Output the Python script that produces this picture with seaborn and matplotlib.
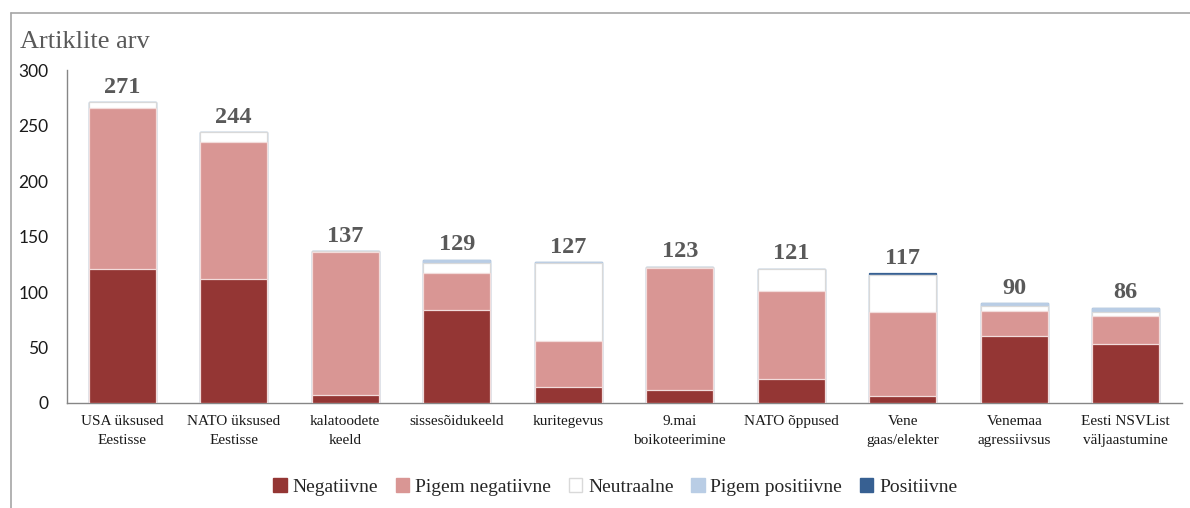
import matplotlib
matplotlib.use("Agg")
import matplotlib.pyplot as plt
from matplotlib.lines import Line2D
from matplotlib.patches import Patch
import seaborn as sns
import pandas as pd
import numpy as np

categories = ["USA üksused\nEestisse", "NATO üksused\nEestisse", "kalatoodete\nkeeld",
              "sissesõidukeeld", "kuritegevus", "9.mai\nboikoteerimine", "NATO õppused",
              "Vene\ngaas/elekter", "Venemaa\nagressiivsus", "Eesti NSVList\nväljaastumine"]
negatiivne = [121, 112, 7, 84, 14, 12, 22, 6, 60, 53]
pigem_negatiivne = [145, 123, 129, 33, 42, 110, 79, 76, 23, 25]
neutraalne = [5, 9, 1, 9, 70, 1, 20, 33, 4, 4]
pigem_positiivne = [0, 0, 0, 3, 1, 0, 0, 0, 3, 4]
positiivne = [0, 0, 0, 0, 0, 0, 0, 2, 0, 0]
series_names = ["Negatiivne", "Pigem negatiivne", "Neutraalne", "Pigem positiivne", "Positiivne"]
colors = ["#943634", "#D99694", "#FFFFFF", "#B9CDE5", "#376092"]
edges = ["#F2DCDB", "#F2DCDB", "#D9D9D9", "#B9CDE5", "#376092"]

sns.set_theme(style="white")
plt.rcParams["font.family"] = ["Liberation Serif", "DejaVu Serif"]

layers = [negatiivne, pigem_negatiivne, neutraalne, pigem_positiivne, positiivne]
cum = np.cumsum(np.array(layers), axis=0)
totals = cum[-1]

fig = plt.figure(figsize=(11.9, 5.08), dpi=100)
ax = fig.add_axes([0.0559, 0.2067, 0.9370, 0.6553])

# draw from top cumulative layer down so lower layers overlay
for i in range(len(layers) - 1, -1, -1):
    df = pd.DataFrame({"cat": categories, "val": cum[i]})
    sns.barplot(data=df, x="cat", y="val", color=colors[i], saturation=1,
                width=0.6, edgecolor=edges[i], linewidth=0.9, ax=ax, zorder=2 + (5 - i))

for x, t in enumerate(totals):
    ax.text(x, t + 4, f"{t}", ha="center", va="bottom", fontsize=17.5,
            fontweight="bold", color="#595959", zorder=10)

ax.set_ylim(0, 300)
ax.set_xlim(-0.5, len(categories) - 0.5)
ax.set_yticks([0, 50, 100, 150, 200, 250, 300])
ax.set_xlabel("")
ax.set_ylabel("")
ax.set_xticks(range(len(categories)))
ax.set_xticklabels(categories, fontsize=11, color="#1a1a1a", linespacing=1.6)
ax.set_xticks(np.arange(-0.5, len(categories), 1.0), minor=True)
ax.tick_params(axis="x", which="major", length=0, pad=9)
ax.tick_params(axis="x", which="minor", length=5, width=1, color="#868686", direction="out")
ax.tick_params(axis="y", length=5, width=1, color="#868686", direction="out", pad=8)
for lab in ax.get_yticklabels():
    lab.set_fontfamily(["Lato", "DejaVu Sans"])
    lab.set_fontsize(12.5)
    lab.set_color("#1a1a1a")
for s in ["top", "right"]:
    ax.spines[s].set_visible(False)
for s in ["left", "bottom"]:
    ax.spines[s].set_color("#868686")
    ax.spines[s].set_linewidth(1)
ax.grid(False)

handles = [Patch(facecolor=c, edgecolor=("#D9D9D9" if c == "#FFFFFF" else c)) for c in colors]
fig.legend(handles, series_names, loc="center", bbox_to_anchor=(0.517, 0.041), ncol=5,
           frameon=False, fontsize=14, handlelength=0.7, handleheight=0.7,
           handletextpad=0.3, columnspacing=0.9)

fig.text(0.017, (508 - 48) / 508, "Artiklite arv", fontsize=19, color="#595959",
         ha="left", va="baseline")

# chart border (left and top visible)
fig.add_artist(Line2D([11 / 1190, 11 / 1190], [0, (508 - 13) / 508], transform=fig.transFigure,
                      color="#A6A6A6", linewidth=1.2))
fig.add_artist(Line2D([11 / 1190, 1], [(508 - 13) / 508, (508 - 13) / 508], transform=fig.transFigure,
                      color="#A6A6A6", linewidth=1.2))

fig.savefig("out.png", dpi=100)
